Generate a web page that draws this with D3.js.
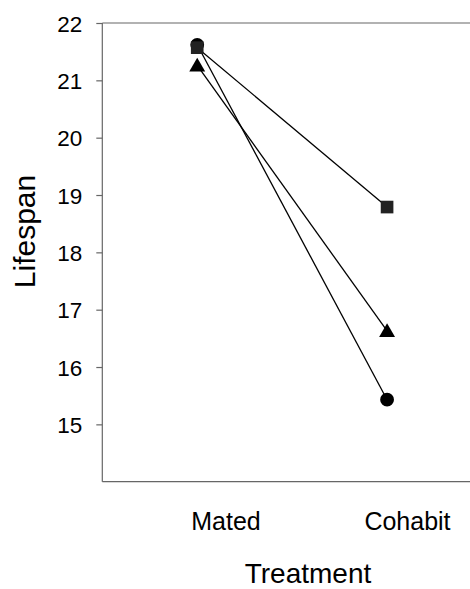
<!DOCTYPE html>
<html>
<head>
<meta charset="utf-8">
<script src="https://cdn.jsdelivr.net/npm/d3@7"></script>
<style>
html,body{margin:0;padding:0;background:#fff;}
svg{display:block;font-family:"Liberation Sans",Arial,sans-serif;}
</style>
</head>
<body>
<svg id="chart" width="470" height="589"></svg>
<script>
const categories = ["Mated", "Cohabit"];
const seriesNames = ["circle", "triangle", "square"];
const circleValues = [21.62, 15.43];
const triangleValues = [21.26, 16.63];
const squareValues = [21.57, 18.79];
const yTicks = [15, 16, 17, 18, 19, 20, 21, 22];
const yTitle = "Lifespan";
const xTitle = "Treatment";

(function () {
const series = [
  {name: "circle", values: circleValues, shape: d3.symbolCircle, size: 150, fill: "#000"},
  {name: "triangle", values: triangleValues, shape: d3.symbolTriangle, size: 110, fill: "#000"},
  {name: "square", values: squareValues, shape: d3.symbolSquare, size: 160, fill: "#222"}
];

const svg = d3.select("#chart");
const mLeft = 102.3, mRight = 482, mTop = 23, mBottom = 481.7;

const x = d3.scalePoint().domain(categories).range([mLeft, mRight]).padding(0.5);
const y = d3.scaleLinear().domain([14, 22]).range([mBottom, mTop]);

// frame: top and bottom lines
svg.append("line").attr("x1", mLeft).attr("x2", mRight).attr("y1", mTop).attr("y2", mTop)
  .attr("stroke", "#666").attr("stroke-width", 1.2);
svg.append("line").attr("x1", mLeft).attr("x2", mRight).attr("y1", mBottom).attr("y2", mBottom)
  .attr("stroke", "#666").attr("stroke-width", 1.2);

// y axis
const yAxis = d3.axisLeft(y).tickValues(yTicks).tickSize(6).tickPadding(14).tickFormat(d3.format("d"));
const gy = svg.append("g").attr("transform", `translate(${mLeft},0)`).call(yAxis);
gy.select(".domain").attr("stroke", "#666").attr("stroke-width", 1.2)
  .attr("d", `M0,${mBottom}V${mTop}`);
gy.selectAll(".tick line").attr("stroke", "#666").attr("stroke-width", 1.2);
gy.selectAll(".tick text").attr("font-size", 22.5).attr("fill", "#000")
  .attr("font-family", "Liberation Sans, Arial, sans-serif").attr("dy", "0.36em");

// x category labels
svg.append("g").selectAll("text").data(categories).join("text")
  .attr("x", d => x(d) + 63.5)
  .attr("y", 529.5)
  .attr("text-anchor", "end")
  .attr("font-size", 25)
  .attr("fill", "#000")
  .text(d => d);

// titles
svg.append("text").attr("x", 308).attr("y", 582.5).attr("text-anchor", "middle")
  .attr("font-size", 28).attr("fill", "#000").text(xTitle);
svg.append("text").attr("transform", "translate(35,231.5) rotate(-90)").attr("text-anchor", "middle")
  .attr("font-size", 30).attr("fill", "#000").text(yTitle);

// lines
const line = d3.line().x((d, i) => x(categories[i])).y(d => y(d));
svg.append("g").selectAll("path").data(series).join("path")
  .attr("d", s => line(s.values))
  .attr("fill", "none").attr("stroke", "#000").attr("stroke-width", 1.3);

// markers
series.forEach(s => {
  svg.append("g").selectAll("path").data(s.values).join("path")
    .attr("transform", (d, i) => {
      const dy = s.shape === d3.symbolTriangle ? 1.5 : 0;
      return `translate(${x(categories[i])},${y(d) + dy})`;
    })
    .attr("d", d3.symbol().type(s.shape).size(s.size))
    .attr("fill", s.fill);
});
})();
</script>
</body>
</html>
